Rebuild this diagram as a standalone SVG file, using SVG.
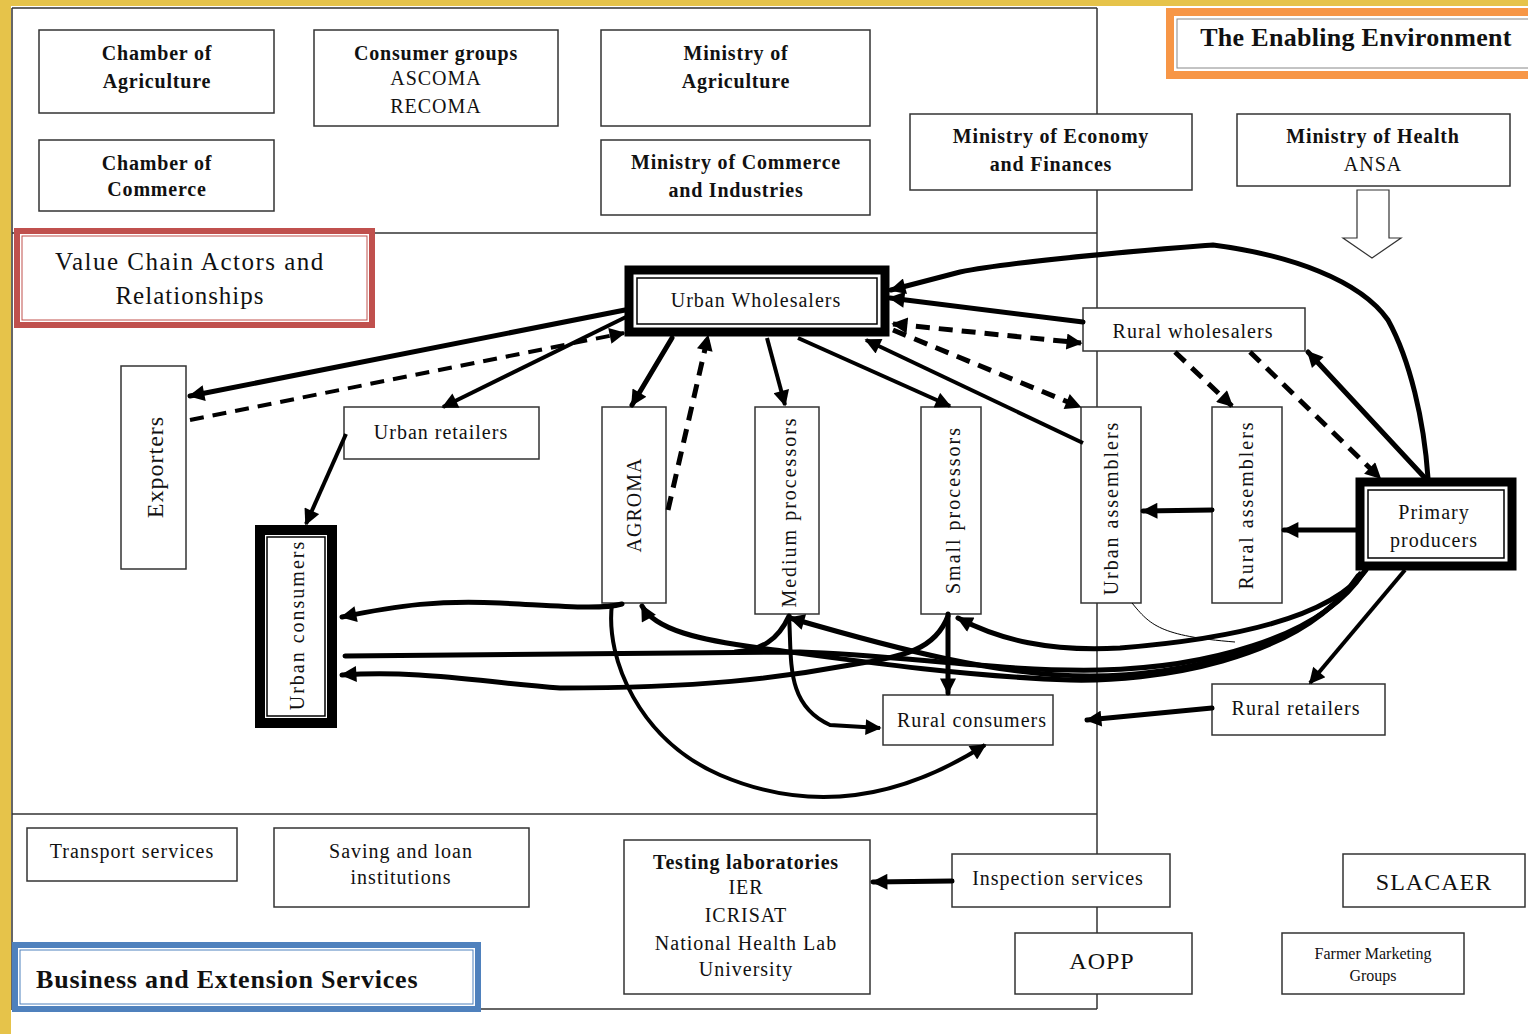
<svg xmlns="http://www.w3.org/2000/svg" width="1528" height="1034" viewBox="0 0 1528 1034">
<defs>
<style>
.bx{fill:#fff;stroke:#333;stroke-width:1.5}
.fr{fill:none;stroke:#333;stroke-width:1.5}
.t{font-family:"Liberation Serif","Times New Roman",serif;font-size:20px;fill:#111;text-anchor:middle;letter-spacing:1px}
.b{font-weight:bold;letter-spacing:0.8px}
.c{stroke:#000;fill:none;stroke-width:5;stroke-linecap:round}
.cm{stroke:#000;fill:none;stroke-width:4}
.d{stroke:#000;fill:none;stroke-width:5;stroke-dasharray:14 9}
.thk{fill:#fff;stroke:#000;stroke-width:9}
.in{fill:none;stroke:#000;stroke-width:1.5}
</style>
<marker id="a" viewBox="0 0 10 10" refX="9" refY="5" markerWidth="18" markerHeight="16" markerUnits="userSpaceOnUse" orient="auto-start-reverse">
<path d="M0,0 L10,5 L0,10 Z" fill="#000"/>
</marker>
</defs>
<rect width="1528" height="1034" fill="#fff"/>
<rect x="0" y="0" width="1528" height="6" fill="#e6c34a"/>
<rect x="0" y="0" width="11" height="1034" fill="#e6c34a"/>

<g id="frame">
<line class="fr" x1="12" y1="8" x2="1097" y2="8"/>
<line class="fr" x1="12" y1="233" x2="1097" y2="233"/>
<line class="fr" x1="12" y1="814" x2="1097" y2="814"/>
<line class="fr" x1="480" y1="1009" x2="1097" y2="1009"/>
<line class="fr" x1="12" y1="8" x2="12" y2="1010"/>
<line class="fr" x1="1097" y1="8" x2="1097" y2="1009"/>
</g>

<g id="chamber-agri"><rect class="bx" x="39" y="30" width="235" height="83"/>
<text class="t b" x="157" y="60">Chamber of</text><text class="t b" x="157" y="88">Agriculture</text></g>
<g id="chamber-comm"><rect class="bx" x="39" y="140" width="235" height="71"/>
<text class="t b" x="157" y="170">Chamber of</text><text class="t b" x="157" y="196">Commerce</text></g>
<g id="consumer-groups"><rect class="bx" x="314" y="30" width="244" height="96"/>
<text class="t b" x="436" y="60">Consumer groups</text><text class="t" x="436" y="85">ASCOMA</text><text class="t" x="436" y="113">RECOMA</text></g>
<g id="min-agri"><rect class="bx" x="601" y="30" width="269" height="96"/>
<text class="t b" x="736" y="60">Ministry of</text><text class="t b" x="736" y="88">Agriculture</text></g>
<g id="min-comm"><rect class="bx" x="601" y="140" width="269" height="75"/>
<text class="t b" x="736" y="169">Ministry of Commerce</text><text class="t b" x="736" y="197">and Industries</text></g>
<g id="min-econ"><rect class="bx" x="910" y="114" width="282" height="76"/>
<text class="t b" x="1051" y="143">Ministry of Economy</text><text class="t b" x="1051" y="171">and Finances</text></g>
<g id="min-health"><rect class="bx" x="1237" y="114" width="273" height="72"/>
<text class="t b" x="1373" y="143">Ministry of Health</text><text class="t" x="1373" y="171">ANSA</text>
<path d="M1357,190 L1389,190 L1389,238 L1401,238 L1372,258 L1343,238 L1357,238 Z" fill="#fff" stroke="#333" stroke-width="1.2"/></g>

<g id="enabling"><rect x="1170" y="12" width="370" height="63" fill="#fff" stroke="#f79646" stroke-width="8"/>
<rect x="1177" y="19" width="360" height="49" fill="none" stroke="#888" stroke-width="1"/>
<text class="t b" x="1356" y="46" style="font-size:26px;letter-spacing:0.3px">The Enabling Environment</text></g>

<g id="value-chain-title"><rect x="17" y="231" width="355" height="94" fill="#fff" stroke="#c0504d" stroke-width="6"/>
<rect x="22" y="236" width="345" height="84" fill="none" stroke="#c0504d" stroke-width="1"/>
<text class="t" x="190" y="270" style="font-size:25px;letter-spacing:1.5px">Value Chain Actors and</text><text class="t" x="190" y="304" style="font-size:25px">Relationships</text></g>

<g id="business-title"><rect x="15" y="945" width="463" height="64" fill="#fff" stroke="#4f81bd" stroke-width="6"/>
<rect x="20" y="950" width="453" height="54" fill="none" stroke="#4f81bd" stroke-width="1"/>
<text class="t b" x="36" y="988" style="font-size:26px;letter-spacing:0.8px;text-anchor:start">Business and Extension Services</text></g>

<g id="urban-wholesalers"><rect class="thk" x="629" y="270" width="256" height="62"/>
<rect class="in" x="637" y="278" width="240" height="46"/>
<text class="t" x="756" y="307">Urban Wholesalers</text></g>
<g id="rural-wholesalers"><rect class="bx" x="1083" y="308" width="222" height="43"/>
<text class="t" x="1193" y="338">Rural wholesalers</text></g>
<g id="exporters"><rect class="bx" x="121" y="366" width="65" height="203"/>
<text class="t" transform="translate(163,467) rotate(-90)" style="font-size:24px">Exporters</text></g>
<g id="urban-retailers"><rect class="bx" x="344" y="407" width="195" height="52"/>
<text class="t" x="441" y="439">Urban retailers</text></g>
<g id="agroma"><rect class="bx" x="602" y="407" width="64" height="196"/>
<text class="t" transform="translate(641,505) rotate(-90)">AGROMA</text></g>
<g id="medium-processors"><rect class="bx" x="755" y="407" width="64" height="207"/>
<text class="t" transform="translate(796,512) rotate(-90)" style="letter-spacing:2px">Medium processors</text></g>
<g id="small-processors"><rect class="bx" x="921" y="407" width="60" height="207"/>
<text class="t" transform="translate(960,510) rotate(-90)" style="letter-spacing:2px">Small processors</text></g>
<g id="urban-assemblers"><rect class="bx" x="1081" y="407" width="60" height="196"/>
<text class="t" transform="translate(1118,508) rotate(-90)" style="letter-spacing:2px">Urban assemblers</text></g>
<g id="rural-assemblers"><rect class="bx" x="1212" y="407" width="70" height="196"/>
<text class="t" transform="translate(1253,505) rotate(-90)" style="letter-spacing:2px">Rural assemblers</text></g>
<g id="primary-producers"><rect class="thk" x="1360" y="482" width="152" height="84"/>
<rect class="in" x="1368" y="490" width="136" height="68"/>
<text class="t" x="1434" y="519">Primary</text><text class="t" x="1434" y="547">producers</text></g>
<g id="urban-consumers"><rect x="260" y="530" width="72" height="193" fill="#fff" stroke="#000" stroke-width="10"/>
<rect class="in" x="267" y="537" width="58" height="179"/>
<text class="t" transform="translate(304,625) rotate(-90)" style="letter-spacing:2px">Urban consumers</text></g>
<g id="rural-consumers"><rect class="bx" x="883" y="695" width="170" height="50"/>
<text class="t" x="972" y="727">Rural consumers</text></g>
<g id="rural-retailers"><rect class="bx" x="1212" y="684" width="173" height="51"/>
<text class="t" x="1296" y="715">Rural retailers</text></g>

<g id="transport"><rect class="bx" x="27" y="828" width="210" height="53"/>
<text class="t" x="132" y="858">Transport services</text></g>
<g id="saving"><rect class="bx" x="274" y="828" width="255" height="79"/>
<text class="t" x="401" y="858">Saving and loan</text><text class="t" x="401" y="884">institutions</text></g>
<g id="testing"><rect class="bx" x="624" y="840" width="246" height="154"/>
<text class="t b" x="746" y="869">Testing laboratories</text><text class="t" x="746" y="894">IER</text><text class="t" x="746" y="922">ICRISAT</text><text class="t" x="746" y="950">National Health Lab</text><text class="t" x="746" y="976">University</text></g>
<g id="inspection"><rect class="bx" x="952" y="854" width="218" height="53"/>
<text class="t" x="1058" y="885">Inspection services</text></g>
<g id="aopp"><rect class="bx" x="1015" y="933" width="177" height="61"/>
<text class="t" x="1102" y="969" style="font-size:24px">AOPP</text></g>
<g id="slacaer"><rect class="bx" x="1343" y="854" width="182" height="53"/>
<text class="t" x="1434" y="890" style="font-size:24px">SLACAER</text></g>
<g id="farmer-groups"><rect class="bx" x="1282" y="933" width="182" height="61"/>
<text class="t" x="1373" y="959" style="font-size:16px;letter-spacing:0">Farmer Marketing</text><text class="t" x="1373" y="981" style="font-size:16px;letter-spacing:0">Groups</text></g>

<g id="connectors">
<path class="c" d="M625,310 L190,396" marker-end="url(#a)"/>
<path class="d" style="stroke-width:4" d="M190,420 L624,333" marker-end="url(#a)"/>
<path class="cm" d="M628,316 L443,407" marker-end="url(#a)"/>
<path class="cm" d="M346,434 L306,524" marker-end="url(#a)"/>
<path class="c" d="M672,338 L632,405" marker-end="url(#a)"/>
<path class="d" d="M668,510 L708,336" marker-end="url(#a)"/>
<path class="cm" d="M767,338 L785,405" marker-end="url(#a)"/>
<path class="cm" d="M798,338 L950,406" marker-end="url(#a)"/>
<path class="cm" d="M1083,443 L866,340" marker-end="url(#a)"/>
<path class="d" d="M893,330 L1080,407" marker-end="url(#a)"/>
<path class="d" d="M893,324 L1081,343" marker-start="url(#a)" marker-end="url(#a)"/>
<path class="c" d="M1083,322 L890,298" marker-end="url(#a)"/>
<path class="c" d="M1428,478 C1424,420 1410,360 1388,320 C1360,280 1290,255 1213,245 C1150,250 1020,260 960,272 L891,290" marker-end="url(#a)"/>
<path class="c" d="M1425,478 L1308,352" marker-end="url(#a)"/>
<path class="d" d="M1175,352 L1232,406" marker-end="url(#a)"/>
<path class="d" d="M1250,352 L1380,478" marker-end="url(#a)"/>
<path class="c" d="M1212,510 L1143,511" marker-end="url(#a)"/>
<path class="c" d="M1356,530 L1284,530" marker-end="url(#a)"/>
<path class="cm" d="M1405,570 L1310,683" marker-end="url(#a)"/>
<path class="c" d="M1212,708 L1087,720" marker-end="url(#a)"/>
<path class="c" d="M948,614 L948,693" marker-end="url(#a)"/>
<path class="c" d="M1364,572 C1320,640 1200,668 1100,670 C1000,672 900,655 800,652 L345,656"/>
<path class="c" d="M1360,574 C1310,650 1180,676 1090,676 C1000,676 900,650 790,618" marker-end="url(#a)"/>
<path class="c" d="M1366,570 C1330,620 1220,640 1120,648 C1050,652 1000,640 958,618" marker-end="url(#a)"/>
<path class="c" d="M1358,576 C1300,662 1150,682 1070,680 C960,676 850,660 760,648 C700,640 655,630 642,606" marker-end="url(#a)"/>
<path class="c" d="M789,616 C778,640 762,650 735,652"/>
<path class="c" d="M948,616 C935,650 905,656 850,665 C780,678 700,688 560,688 C480,682 420,670 342,675" marker-end="url(#a)"/>
<path class="c" d="M622,604 C600,610 560,606 500,603 C440,600 400,605 342,617" marker-end="url(#a)"/>
<path class="cm" d="M612,604 C605,660 640,740 720,775 C790,805 880,812 985,745" marker-end="url(#a)"/>
<path class="cm" d="M789,616 C792,660 785,705 830,725 L880,728" marker-end="url(#a)"/>
<path d="M1132,603 C1150,625 1160,636 1235,642" fill="none" stroke="#000" stroke-width="1"/>
<path class="c" d="M952,881 L873,882" marker-end="url(#a)"/>
</g>
</svg>
